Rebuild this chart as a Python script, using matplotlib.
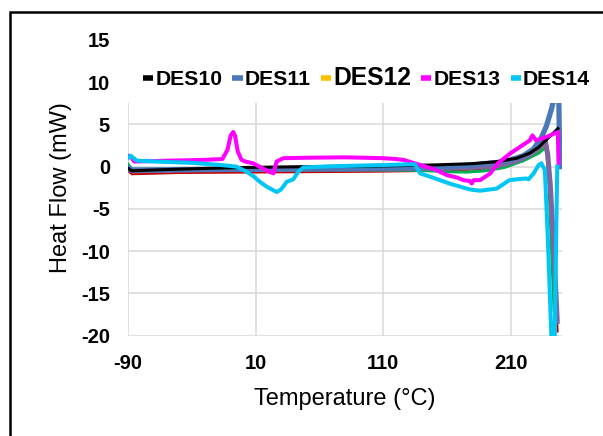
import matplotlib
matplotlib.use("Agg")
import matplotlib.pyplot as plt
from matplotlib.lines import Line2D
from matplotlib.patches import Rectangle

plt.rcParams['font.family'] = ['Liberation Sans', 'DejaVu Sans']
plt.rcParams['axes.unicode_minus'] = False

# DSC curves: temperature (C) and heat flow (mW)
des10_t = [-90, -87, -80, -50, 0, 50, 100, 150, 180, 200, 215, 225, 232, 238, 243, 247]
des10_hf = [-0.2, -0.5, -0.45, -0.3, -0.1, 0.0, 0.05, 0.2, 0.35, 0.6, 1.0, 1.6, 2.3, 3.2, 3.9, 4.5]

des11_t = [-90, -87, -50, 0, 50, 100, 150, 180, 200, 210, 220, 228, 234, 238, 242, 245, 247.5, 248.5]
des11_hf = [-0.1, -0.4, -0.35, -0.3, -0.25, -0.2, -0.1, 0.2, 0.5, 0.8, 1.3, 2.1, 3.4, 4.8, 6.8, 8.8, 10.5, 0.0]

des12_t = [-90, -87, -50, 0, 50, 100, 150, 180, 200, 215, 225, 232, 236, 239, 241, 244, 246]
des12_hf = [-0.3, -0.5, -0.45, -0.4, -0.35, -0.35, -0.25, -0.15, 0.05, 0.6, 1.3, 2.0, 2.7, 1.2, -2.0, -10.0, -17.5]

des13_t = [-90, -88, -85, -60, -30, -16, -12, -9.5, -7.5, -6, -4, -1, 2, 8, 13, 18, 24, 26.5, 31.7, 50, 80,
           110, 120, 126, 139, 150, 160, 168, 173, 178, 179.5, 181, 186, 194, 200, 205, 210, 217, 220, 225,
           227, 230, 238, 247, 247.5]
des13_hf = [1.3, 1.2, 0.6, 0.7, 0.8, 0.9, 2.0, 3.7, 4.1, 3.6, 1.8, 0.8, 0.6, 0.4, 0.0, -0.4, -0.8, 0.6, 1.0, 1.05, 1.1,
            1.0, 0.9, 0.8, 0.2, -0.3, -1.0, -1.3, -1.6, -1.7, -2.0, -1.6, -1.6, -0.8, 0.4, 1.0, 1.6, 2.3, 2.6, 3.1,
            3.7, 3.1, 3.5, 4.1, 0.4]

des14_t = [-90, -88, -83, -60, -40, -18, -5, 3, 8, 13.4, 19, 24, 26.5, 30, 34.4, 39.6, 43.5, 47.4, 70, 100, 130,
           135, 139, 147, 162, 178, 186, 199, 205, 209, 215, 222, 224, 228, 232, 234, 236.8, 239, 242, 244.5, 246.5]
des14_hf = [1.0, 1.3, 0.7, 0.55, 0.45, 0.2, 0.0, -0.6, -1.1, -1.8, -2.4, -2.8, -3.0, -2.7, -1.8, -1.5, -0.6, -0.1,
            0.05, 0.15, 0.27, 0.27, -0.8, -1.2, -2.0, -2.7, -2.85, -2.6, -2.0, -1.6, -1.5, -1.4, -1.5, -0.8, 0.2,
            0.4, -0.4, -8.0, -20.5, -20.5, 0.0]

# unlabelled runs drawn in the same chart
red_t = [-90, -87, -50, 0, 50, 100, 150, 180, 200, 215, 225, 233, 238, 240, 243, 246.8]
red_hf = [-0.5, -0.9, -0.75, -0.7, -0.65, -0.6, -0.5, -0.35, -0.1, 0.6, 1.5, 2.7, 3.4, 1.0, -8.0, -19.5]

green_t = [-90, -87, -50, 0, 50, 100, 140, 160, 175, 190, 205, 220, 232, 238, 240, 244]
green_hf = [0.3, -0.3, -0.35, -0.4, -0.4, -0.4, -0.45, -0.6, -0.65, -0.5, -0.1, 0.7, 1.6, 2.4, -2.0, -17.0]

purple_t = [-90, -87, -50, 0, 50, 100, 150, 180, 200, 215, 225, 232, 237, 239, 241, 244, 246.5]
purple_hf = [-0.2, -0.5, -0.4, -0.35, -0.3, -0.3, -0.2, -0.1, 0.1, 0.7, 1.4, 2.2, 3.0, 1.5, -2.0, -10.0, -18.3]

labels = ["DES10", "DES11", "DES12", "DES13", "DES14"]
colors = ["#000000", "#4A78B8", "#FFC000", "#FF00FF", "#00C6F6"]
x_ticks = [-90, 10, 110, 210]
y_ticks = [-20, -15, -10, -5, 0, 5, 10, 15]

fig = plt.figure(figsize=(6.03, 4.36), dpi=100)
ax = fig.add_axes([0.2123, 0.23, 0.7192, 0.6787])

ax.plot(des12_t, des12_hf, color=colors[2], lw=2.2, zorder=2)
ax.plot(red_t, red_hf, color="#C00000", lw=1.5, zorder=2)
ax.plot(green_t, green_hf, color="#00B050", lw=2.2, zorder=2)
ax.plot(purple_t, purple_hf, color="#8064A2", lw=3.6, zorder=2)
ax.plot(des11_t, des11_hf, color=colors[1], lw=3.8, zorder=2)
ax.plot(des10_t, des10_hf, color=colors[0], lw=2.2, zorder=2)
ax.plot(des13_t, des13_hf, color=colors[3], lw=2.9, zorder=2)
ax.plot(des14_t, des14_hf, color=colors[4], lw=2.9, zorder=2)

ax.set_xlim(-90, 250)
ax.set_ylim(-20, 15)
ax.set_xticks(x_ticks)
ax.set_yticks(y_ticks)
ax.grid(True, color="#D9D9D9", lw=1.1)
ax.set_axisbelow(True)
for s in ax.spines.values():
    s.set_visible(False)
ax.tick_params(length=0, labelsize=14.5)
ax.tick_params(axis="y", pad=13)
ax.tick_params(axis="x", pad=13.5)
for lab in ax.get_xticklabels() + ax.get_yticklabels():
    lab.set_fontweight("bold")

ax.set_xlabel("Temperature (°C)", fontsize=17)
ax.set_ylabel("Heat Flow (mW)", fontsize=17)
ax.xaxis.set_label_coords(0.5, -0.175)
ax.yaxis.set_label_coords(-0.13, 0.5)

# white legend area covering the top of the plot
cover = Rectangle((-0.02, 0.7857), 1.2, 0.27, transform=ax.transAxes, facecolor="white",
                  edgecolor="none", zorder=4, clip_on=False)
ax.add_patch(cover)

handles = [Line2D([0], [0], color=c, lw=4, solid_capstyle="butt") for c in colors]
leg = ax.legend(handles, labels, ncol=5, loc="center left", bbox_to_anchor=(0.0346, 0.871),
                frameon=False, handlelength=0.48, handletextpad=0.1, columnspacing=0.48,
                borderpad=0, borderaxespad=0, prop={"weight": "bold", "size": 15.2})
leg.set_zorder(5)
leg.get_texts()[2].set_fontsize(17.7)

border = Rectangle((10.3 / 603, -0.2), 1.5, 1.1725, transform=fig.transFigure, fill=False,
                   edgecolor="black", lw=1.8)
fig.patches.append(border)

fig.savefig("out.png", dpi=100)
